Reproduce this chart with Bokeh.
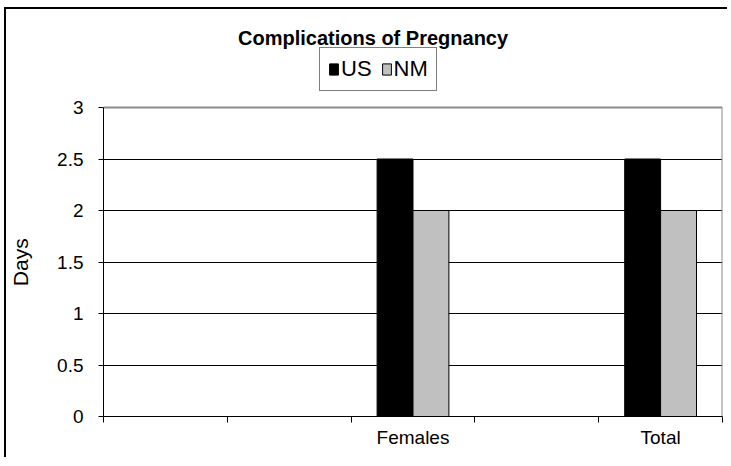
from bokeh.plotting import figure
from bokeh.models import (Range1d, FixedTicker, NumeralTickFormatter, Legend, Label)
from bokeh.embed import file_html
from bokeh.resources import INLINE

# ---- data ----
categories = ["", "", "Females", "", "Total"]
us_values = [0, 0, 2.5, 0, 2.5]
nm_values = [0, 0, 2.0, 0, 2.0]
y_ticks = [0, 0.5, 1, 1.5, 2, 2.5, 3]
y_max = 3
title_text = "Complications of Pregnancy"
y_label = "Days"
series_names = ["US", "NM"]

FONT = "Liberation Sans"
n = len(categories)
centers = [i + 0.5 for i in range(n)]
bar_w = 0.29
x_us = [c - bar_w / 2 for c in centers]
x_nm = [c + bar_w / 2 for c in centers]

# layout (pixels): plot area 309 px tall for 0..3; frame extended upward to hold title/legend
plot_px = 309
frame_px = 396
y_top = y_max * frame_px / plot_px
px_per_unit = plot_px / y_max

p = figure(width=723, height=450, output_backend="svg", toolbar_location=None,
           x_range=Range1d(0, n), y_range=Range1d(0, y_top),
           min_border_left=96, min_border_top=11, min_border_right=7,
           min_border_bottom=43)
p.background_fill_color = "white"
p.border_fill_color = "white"
p.outline_line_color = None
p.styles = {"margin-left": "6px", "margin-top": "9px",
            "box-shadow": "-2px -2px 0px 0px black"}

r_us = p.vbar(x=x_us, top=us_values, width=bar_w, fill_color="black",
              line_color="black", line_width=1)
r_nm = p.vbar(x=x_nm, top=nm_values, width=bar_w, fill_color="#c0c0c0",
              line_color="black", line_width=1)

# grid
p.xgrid.visible = False
p.ygrid.ticker = FixedTicker(ticks=[t for t in y_ticks if 0 < t < y_max])
p.ygrid.grid_line_color = "black"
p.ygrid.grid_line_width = 1

# plot-area border (top and right, grey)
p.segment(x0=[0, n], y0=[y_max, 0], x1=[n, n], y1=[y_max, y_max],
          line_color="#8c8c8c", line_width=2)

# y axis
ya = p.yaxis[0]
ya.bounds = (0, y_max)
ya.ticker = FixedTicker(ticks=y_ticks)
ya.formatter = NumeralTickFormatter(format="0.[0]")
ya.major_tick_in = 0
ya.major_tick_out = 5
ya.minor_tick_out = 0
ya.minor_tick_in = 0
ya.axis_line_color = "black"
ya.major_tick_line_color = "black"
ya.major_label_text_font = FONT
ya.major_label_text_font_size = "19px"
ya.major_label_text_color = "black"
ya.major_label_standoff = 15
# label is centred on the extended frame; pad it so it sits beside the 0..3 area
ya.axis_label = y_label + "\u00a0" * 15
ya.axis_label_text_font = FONT
ya.axis_label_text_font_size = "21px"
ya.axis_label_text_font_style = "normal"
ya.axis_label_text_color = "black"
ya.axis_label_standoff = 22

# x axis
xa = p.xaxis[0]
xa.ticker = FixedTicker(ticks=centers, minor_ticks=list(range(n + 1)))
xa.major_label_overrides = {c: lab for c, lab in zip(centers, categories)}
xa.major_tick_in = 0
xa.major_tick_out = 0
xa.minor_tick_in = 0
xa.minor_tick_out = 6
xa.minor_tick_line_color = "black"
xa.axis_line_color = "black"
xa.major_label_text_font = FONT
xa.major_label_text_font_size = "19px"
xa.major_label_text_color = "black"
xa.major_label_standoff = 4

# title (inside the extended frame)
p.add_layout(Label(x=(372 - 102) / 124, y=(416 - 37) / px_per_unit,
                   text=title_text, text_align="center", text_baseline="middle",
                   text_font=FONT, text_font_style="bold", text_font_size="20px",
                   text_color="black"))

# legend
leg = Legend(items=[(series_names[0], [r_us]), (series_names[1], [r_nm])],
             orientation="horizontal", location=(216, 416 - 91),
             border_line_color="black", border_line_width=1,
             padding=8, margin=0, spacing=9, label_standoff=2,
             glyph_width=11, glyph_height=14, label_height=26,
             label_text_font=FONT, label_text_font_size="22px",
             label_text_color="black",
             background_fill_color="white", background_fill_alpha=1)
p.add_layout(leg, "center")

open("out.html", "w").write(file_html(p, INLINE))
